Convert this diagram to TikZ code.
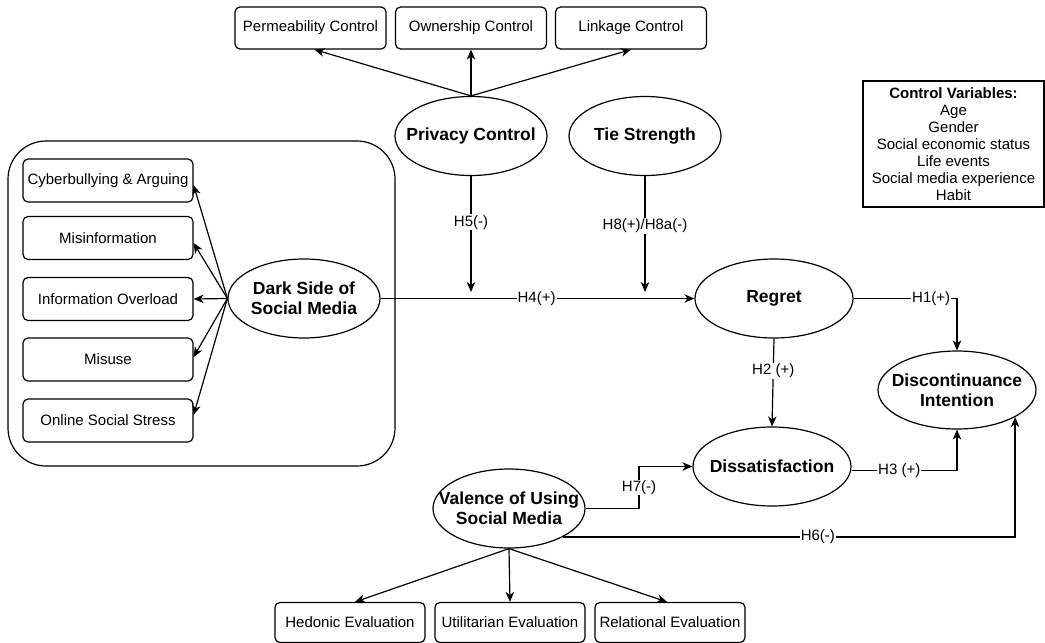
\documentclass[tikz,border=0pt]{standalone}
\usepackage{fontspec}
\setmainfont{Liberation Sans}
\usetikzlibrary{shapes.geometric,arrows.meta,calc}
\begin{document}
\begin{tikzpicture}[x=1pt,y=-1pt,
  every node/.style={font=\fontsize{15}{17}\selectfont},
  sbox/.style={draw, rounded corners=5pt, line width=1.2pt, minimum width=151pt, minimum height=42pt, inner sep=0pt},
  dbox/.style={sbox, minimum width=170pt, minimum height=43pt},
  ebox/.style={sbox, minimum width=150pt, minimum height=40pt},
  latent/.style={ellipse, draw, line width=1.2pt, minimum width=152pt, minimum height=79pt, inner sep=0pt},
  widelatent/.style={latent, minimum width=158pt},
  ltext/.style={font=\fontsize{17.5}{20}\selectfont\bfseries, align=center, inner sep=0pt},
  arr/.style={-{Stealth[length=10pt,width=8.5pt,inset=3pt]}, line width=1.2pt},
  conn/.style={line width=1.2pt},
  lbl/.style={fill=white, inner sep=1pt, font=\fontsize{15}{17}\selectfont}]
\useasboundingbox (0,0) rectangle (1045,643);

% privacy control dimensions
\node[sbox] (perm) at (310.5,28) {Permeability Control};
\node[sbox] (own)  at (471,28)   {Ownership Control};
\node[sbox] (link) at (631,28)   {Linkage Control};

% moderators
\node[latent] (priv) at (471,136) {};
\node[ltext] (privT) at (priv) {Privacy Control};
\node[latent] (tie) at (645,136) {};
\node[ltext] (tieT) at (tie) {Tie Strength};

% control variables
\node[draw, line width=1.2pt, minimum width=181pt, minimum height=126pt, align=center, inner sep=0pt] (ctrl) at (953.5,144)
  {\textbf{Control Variables:}\\Age\\Gender\\Social economic status\\Life events\\Social media experience\\Habit};

% dark side group
\draw[line width=1.2pt, rounded corners=38pt] (8,141) rectangle (395,466);
\node[dbox] (b1) at (108,180.5) {Cyberbullying \& Arguing};
\node[dbox] (b2) at (108,238)   {Misinformation};
\node[dbox] (b3) at (108,299)   {Information Overload};
\node[dbox] (b4) at (108,359.5) {Misuse};
\node[dbox] (b5) at (108,420.5) {Online Social Stress};
\node[latent] (dark) at (304,298.5) {};
\node[ltext] (darkT) at (dark) {Dark Side of\\Social Media};

% outcome constructs
\node[widelatent] (reg) at (774,298.5) {};
\node[ltext] (regT) at (reg) {Regret};
\node[widelatent] (dis) at (772,466.5) {};
\node[ltext] (disT) at (dis) {Dissatisfaction};
\node[widelatent, minimum height=78pt] (disc) at (957,390) {};
\node[ltext] (discT) at (disc) {Discontinuance\\Intention};

% valence and its evaluations
\node[latent] (val) at (509,508.5) {};
\node[ltext] (valT) at (val) {Valence of Using\\Social Media};
\node[ebox] (hed) at (350,622.5) {Hedonic Evaluation};
\node[ebox] (uti) at (510,622.5) {Utilitarian Evaluation};
\node[ebox] (rel) at (670,622.5) {Relational Evaluation};

% formative arrows
\draw[arr] (priv.north) -- ($(perm.south)+(4,0)$);
\draw[arr] (priv.north) -- (own.south);
\draw[arr] (priv.north) -- (link.south);
\draw[arr] (dark.west) -- ($(b1.east)+(0,4.5)$);
\draw[arr] (dark.west) -- ($(b2.east)+(0,5)$);
\draw[arr] (dark.west) -- (b3.east);
\draw[arr] (dark.west) -- ($(b4.east)+(0,-2.5)$);
\draw[arr] (dark.west) -- ($(b5.east)+(0,-5.5)$);
\draw[arr] (val.south) -- ($(hed.north)+(5,0)$);
\draw[arr] (val.south) -- (uti.north);
\draw[arr] (val.south) -- ($(rel.north)+(-3,0)$);

% structural paths
\draw[arr] (dark.east) -- node[lbl, pos=0.497] {H4(+)} (reg.west);
\coordinate (m5) at (471,292);
\coordinate (m8) at (645,292);
\draw[arr] (priv.south) -- node[lbl, pos=0.4] {H5(-)} (m5);
\draw[arr] (tie.south) -- node[lbl, pos=0.43] {H8(+)/H8a(-)} (m8);
\draw[arr] (reg.east) -| node[lbl, pos=0.375] {H1(+)} (disc.north);
\draw[arr] (reg.south) -- node[lbl, pos=0.37] {H2 (+)} (dis.north);
\draw[arr] ($(dis.east)+(0,4)$) -| node[lbl, pos=0.226] {H3 (+)} (disc.south);
\coordinate (k7) at (639,508.5);
\draw[arr] (val.east) -- (k7) |- node[lbl, pos=0.25] {H7(-)} (dis.west);
\draw[arr] (val.-28) -| node[lbl, pos=0.282] {H6(-)} (disc.-25);
\end{tikzpicture}
\end{document}
